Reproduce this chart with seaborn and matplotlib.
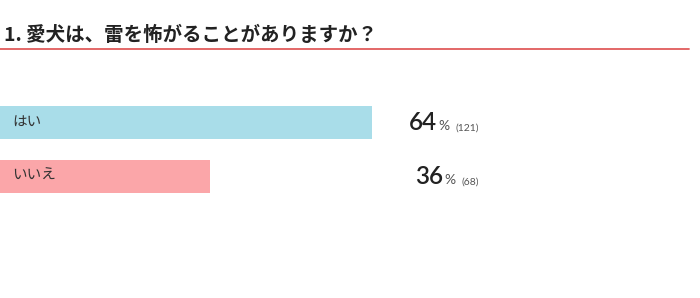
import matplotlib
matplotlib.use("Agg")
import matplotlib.pyplot as plt
import seaborn as sns
import pandas as pd
from matplotlib.lines import Line2D

# data
answers = ["はい", "いいえ"]
percents = [64, 36]
counts = [121, 68]
colors = ["#a9dde9", "#fba6a9"]
title = "1. 愛犬は、雷を怖がることがありますか？"

sns.set_style("white")
plt.rcParams['font.family'] = ['Noto Sans CJK JP', 'DejaVu Sans']

W, H = 700, 298
fig = plt.figure(figsize=(W / 100, H / 100), dpi=100)

# axes: x 0..100 spans 582 px, categories spaced 54 px
ax = fig.add_axes([0, 1 - 203.5 / H, 582 / W, 108 / H])
df = pd.DataFrame({"answer": answers, "pct": percents})
sns.barplot(data=df, x="pct", y="answer", hue="answer", palette=colors,
            orient="h", width=33 / 54, legend=False, ax=ax, saturation=1,
            linewidth=0)
ax.set_xlim(0, 100)
ax.set_ylim(1.5, -0.5)
ax.axis("off")

fig.canvas.draw()
r = fig.canvas.get_renderer()
for i, (a, p, c) in enumerate(zip(answers, percents, counts)):
    y_px = ax.transData.transform((0, i))[1]
    fig.text(12 / W, (y_px + 1) / H, a, fontsize=10.5, va="center",
             ha="left", color="#333333")
    base = (y_px - 8) / H
    cnt = fig.text(479 / W, base, f"({c})", fontsize=7.5, color="#555555",
                   ha="right", va="baseline", family="Lato")
    pct = fig.text(0, base, "%", fontsize=10, color="#555555", ha="right",
                   va="baseline", family="Lato")
    num = fig.text(0, base, str(p), fontsize=17.5, color="#222222",
                   ha="right", va="baseline", family="Lato",
                   fontweight="semibold")
    bb = cnt.get_window_extent(r)
    pct.set_x((bb.x0 - 6) / W)
    bb2 = pct.get_window_extent(r)
    num.set_x((bb2.x0 - 1) / W)

fig.text(4 / W, 1 - 35 / H, title, fontsize=14, va="center", ha="left",
         color="#222222", fontweight="bold")
fig.add_artist(Line2D([0, 689 / W], [1 - 48.5 / H, 1 - 48.5 / H],
                      transform=fig.transFigure, color="#e05c5c", lw=1.3))

fig.savefig("out.png", dpi=100)
